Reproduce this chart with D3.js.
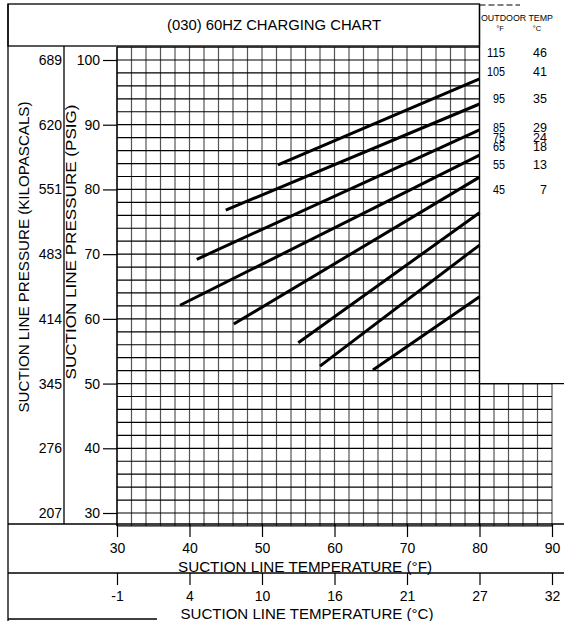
<!DOCTYPE html>
<html>
<head>
<meta charset="utf-8">
<script src="https://cdn.jsdelivr.net/npm/d3@7"></script>
<style>
html,body{margin:0;padding:0;background:#fff;}
svg{display:block;}
text{font-family:"Liberation Sans",Arial,Helvetica,sans-serif;fill:#000;}
</style>
</head>
<body>
<div id="chart"></div>
<script>
// ---------------- DATA ----------------
const chartTitle = "(030) 60HZ CHARGING CHART";
const psigTicks = [30, 40, 50, 60, 70, 80, 90, 100];
const kpaLabels = ["207", "276", "345", "414", "483", "551", "620", "689"];
const fTicks = [30, 40, 50, 60, 70, 80, 90];
const cLabels = ["-1", "4", "10", "16", "21", "27", "32"];
const outdoorF = ["115", "105", "95", "85", "75", "65", "55", "45"];
const outdoorC = ["46", "41", "35", "29", "24", "18", "13", "7"];
const lineStartF    = [52.2, 45.0, 41.0, 38.7, 46.1, 55.0, 58.0, 65.3];
const lineStartPsig = [83.8, 76.8, 69.2, 62.1, 59.2, 56.3, 52.7, 52.1];
const lineEndF      = [80, 80, 80, 80, 80, 80, 80, 80];
const lineEndPsig   = [97.1, 93.2, 89.2, 85.3, 81.9, 76.4, 71.4, 63.4];

// ---------------- LAYOUT ----------------
const W = 564, H = 621;
const legendPsig = [101.2, 98.2, 94.0, 89.5, 88.1, 86.6, 83.8, 80.0]; // label placement
const svg = d3.select("#chart").append("svg").attr("width", W).attr("height", H);
svg.append("rect").attr("width", W).attr("height", H).attr("fill", "#fff");

const x = d3.scaleLinear().domain([30, 90]).range([117, 552]);
const y = d3.scaleLinear().domain([30, 100]).range([513, 60]);

const gGrid = svg.append("g");
// main grid: 30-80F, 28-102 psig
const vMain = d3.range(30, 80.1, 2);
const hMain = d3.range(28, 102.1, 2);
gGrid.selectAll("line.v").data(vMain).enter().append("line")
  .attr("x1", d => x(d)).attr("x2", d => x(d))
  .attr("y1", y(102)).attr("y2", y(28))
  .attr("stroke", "#555").attr("stroke-width", 1.2);
gGrid.selectAll("line.h").data(hMain).enter().append("line")
  .attr("x1", x(30)).attr("x2", x(80))
  .attr("y1", d => y(d)).attr("y2", d => y(d))
  .attr("stroke", "#000").attr("stroke-width", 1.2);
// extension grid: 80-90F, 28-50 psig
const vExt = d3.range(82, 90.1, 2);
const hExt = d3.range(28, 50.1, 2);
gGrid.selectAll("line.ve").data(vExt).enter().append("line")
  .attr("x1", d => x(d)).attr("x2", d => x(d))
  .attr("y1", y(50)).attr("y2", y(28))
  .attr("stroke", "#555").attr("stroke-width", 1.2);
gGrid.selectAll("line.he").data(hExt).enter().append("line")
  .attr("x1", x(80)).attr("x2", x(90))
  .attr("y1", d => y(d)).attr("y2", d => y(d))
  .attr("stroke", "#000").attr("stroke-width", 1.2);
// right edge line at 50 psig to page edge
svg.append("line").attr("x1", x(80)).attr("x2", W).attr("y1", y(50)).attr("y2", y(50))
  .attr("stroke", "#000").attr("stroke-width", 1.2);
// grid right border for main region
svg.append("line").attr("x1", x(80)).attr("x2", x(80)).attr("y1", 4).attr("y2", y(28))
  .attr("stroke", "#000").attr("stroke-width", 1.3);

// ---------------- charging lines ----------------
const lines = outdoorF.map((f, i) => [[lineStartF[i], lineStartPsig[i]], [lineEndF[i], lineEndPsig[i]]]);
const lineGen = d3.line().x(d => x(d[0])).y(d => y(d[1]));
svg.selectAll("path.chg").data(lines).enter().append("path")
  .attr("d", lineGen).attr("fill", "none").attr("stroke", "#000")
  .attr("stroke-width", 3).attr("stroke-linecap", "butt");

// ---------------- frame ----------------
const frame = svg.append("g").attr("stroke", "#000").attr("stroke-width", 1.3).attr("fill", "none");
frame.append("rect").attr("x", 8).attr("y", 4).attr("width", x(80) - 8).attr("height", 42);
frame.append("line").attr("x1", 8).attr("x2", 8).attr("y1", 4).attr("y2", H);
frame.append("line").attr("x1", 64).attr("x2", 64).attr("y1", 46).attr("y2", 524);
frame.append("line").attr("x1", 8).attr("x2", W).attr("y1", 524).attr("y2", 524);
frame.append("line").attr("x1", 8).attr("x2", W).attr("y1", 573).attr("y2", 573);
frame.append("line").attr("x1", 8).attr("x2", 157).attr("y1", 619).attr("y2", 619);
frame.append("line").attr("x1", x(80)).attr("x2", 520).attr("y1", 5).attr("y2", 5)
  .attr("stroke-dasharray", "6,3").attr("stroke-width", 1);

// title
svg.append("text").attr("x", 274).attr("y", 30).attr("text-anchor", "middle")
  .attr("font-size", 14).attr("textLength", 214).attr("lengthAdjust", "spacingAndGlyphs")
  .text(chartTitle);

// ---------------- left axes ----------------
const yAxis = d3.axisLeft(y).tickValues(psigTicks).tickSize(14).tickPadding(3).tickFormat(d3.format("d"));
const gy = svg.append("g").attr("transform", `translate(${x(30)},0)`).call(yAxis);
gy.select(".domain").attr("stroke", "#000").attr("stroke-width", 1.3).attr("d", `M0,${y(102)}V${y(28)}`);
gy.selectAll(".tick line").attr("stroke", "#000").attr("stroke-width", 1.2);
gy.selectAll(".tick text").attr("font-size", 14).attr("font-family", "Liberation Sans, Arial, sans-serif").attr("fill", "#000");

svg.selectAll("text.kpa").data(psigTicks).enter().append("text")
  .attr("x", 62).attr("y", d => y(d)).attr("dy", "0.36em").attr("text-anchor", "end")
  .attr("font-size", 14).text((d, i) => kpaLabels[i]);

svg.append("text").attr("transform", "translate(29,257) rotate(-90)").attr("text-anchor", "middle")
  .attr("font-size", 14).attr("textLength", 311).attr("lengthAdjust", "spacingAndGlyphs")
  .text("SUCTION LINE PRESSURE (KILOPASCALS)");
svg.append("text").attr("transform", "translate(76,242) rotate(-90)").attr("text-anchor", "middle")
  .attr("font-size", 14).attr("textLength", 275).attr("lengthAdjust", "spacingAndGlyphs")
  .text("SUCTION LINE PRESSURE (PSIG)");

// ---------------- bottom axes ----------------
const xAxisF = d3.axisBottom(x).tickValues(fTicks).tickSize(13).tickPadding(6).tickFormat(d3.format("d"));
const gxf = svg.append("g").attr("transform", "translate(0,524)").call(xAxisF);
gxf.select(".domain").remove();
gxf.selectAll(".tick line").attr("stroke", "#000").attr("stroke-width", 1.2);
gxf.selectAll(".tick text").attr("font-size", 14).attr("font-family", "Liberation Sans, Arial, sans-serif").attr("fill", "#000");

const xAxisC = d3.axisBottom(x).tickValues(fTicks).tickSize(12).tickPadding(6).tickFormat((d, i) => cLabels[i]);
const gxc = svg.append("g").attr("transform", "translate(0,573)").call(xAxisC);
gxc.select(".domain").remove();
gxc.selectAll(".tick line").attr("stroke", "#000").attr("stroke-width", 1.2);
gxc.selectAll(".tick text").attr("font-size", 14).attr("font-family", "Liberation Sans, Arial, sans-serif").attr("fill", "#000");

svg.append("text").attr("x", 305).attr("y", 572).attr("text-anchor", "middle")
  .attr("font-size", 14).attr("textLength", 254).attr("lengthAdjust", "spacingAndGlyphs")
  .text("SUCTION LINE TEMPERATURE (°F)");
svg.append("text").attr("x", 307).attr("y", 619).attr("text-anchor", "middle")
  .attr("font-size", 14).attr("textLength", 253).attr("lengthAdjust", "spacingAndGlyphs")
  .text("SUCTION LINE TEMPERATURE (°C)");

// ---------------- legend ----------------
svg.append("text").attr("x", 481).attr("y", 21).attr("font-size", 8.5)
  .attr("textLength", 72).attr("lengthAdjust", "spacingAndGlyphs").text("OUTDOOR TEMP");
svg.append("text").attr("x", 500).attr("y", 31).attr("font-size", 7.5).attr("text-anchor", "middle").text("°F");
svg.append("text").attr("x", 537).attr("y", 31).attr("font-size", 7.5).attr("text-anchor", "middle").text("°C");

svg.selectAll("text.lf").data(outdoorF).enter().append("text")
  .attr("x", 505).attr("y", (d, i) => y(legendPsig[i])).attr("dy", "0.36em")
  .attr("text-anchor", "end").attr("font-size", 12.5)
  .attr("textLength", d => d.length * 6.0).attr("lengthAdjust", "spacingAndGlyphs")
  .text(d => d);
svg.selectAll("text.lc").data(outdoorC).enter().append("text")
  .attr("x", 547).attr("y", (d, i) => y(legendPsig[i])).attr("dy", "0.36em")
  .attr("text-anchor", "end").attr("font-size", 12.5)
  .text(d => d);
</script>
</body>
</html>
